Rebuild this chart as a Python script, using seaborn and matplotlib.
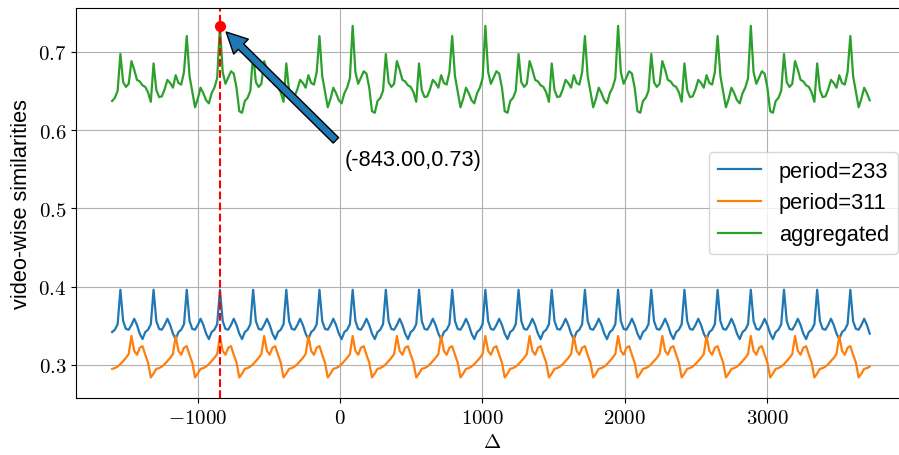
import numpy as np
import pandas as pd
import matplotlib
matplotlib.use("Agg")
import matplotlib.pyplot as plt
import seaborn as sns
from matplotlib.ticker import FuncFormatter

# Frame offsets: 275 evenly spaced shifts (12 per 233-frame period)
delta = np.linspace(-1600.25, 3719.92, 275)

period_233 = [
    0.342, 0.345, 0.352,
    0.396, 0.356, 0.346, 0.345, 0.351, 0.359, 0.351, 0.340, 0.333, 0.342, 0.345, 0.352,
    0.396, 0.356, 0.346, 0.345, 0.351, 0.359, 0.351, 0.340, 0.333, 0.342, 0.345, 0.352,
    0.396, 0.356, 0.346, 0.345, 0.351, 0.359, 0.351, 0.340, 0.333, 0.342, 0.345, 0.352,
    0.396, 0.356, 0.346, 0.345, 0.351, 0.359, 0.351, 0.340, 0.333, 0.342, 0.345, 0.352,
    0.396, 0.356, 0.346, 0.345, 0.351, 0.359, 0.351, 0.340, 0.333, 0.342, 0.345, 0.352,
    0.396, 0.356, 0.346, 0.345, 0.351, 0.359, 0.351, 0.340, 0.333, 0.342, 0.345, 0.352,
    0.396, 0.356, 0.346, 0.345, 0.351, 0.359, 0.351, 0.340, 0.333, 0.342, 0.345, 0.352,
    0.396, 0.356, 0.346, 0.345, 0.351, 0.359, 0.351, 0.340, 0.333, 0.342, 0.345, 0.352,
    0.396, 0.356, 0.346, 0.345, 0.351, 0.359, 0.351, 0.340, 0.333, 0.342, 0.345, 0.352,
    0.396, 0.356, 0.346, 0.345, 0.351, 0.359, 0.351, 0.340, 0.333, 0.342, 0.345, 0.352,
    0.396, 0.356, 0.346, 0.345, 0.351, 0.359, 0.351, 0.340, 0.333, 0.342, 0.345, 0.352,
    0.396, 0.356, 0.346, 0.345, 0.351, 0.359, 0.351, 0.340, 0.333, 0.342, 0.345, 0.352,
    0.396, 0.356, 0.346, 0.345, 0.351, 0.359, 0.351, 0.340, 0.333, 0.342, 0.345, 0.352,
    0.396, 0.356, 0.346, 0.345, 0.351, 0.359, 0.351, 0.340, 0.333, 0.342, 0.345, 0.352,
    0.396, 0.356, 0.346, 0.345, 0.351, 0.359, 0.351, 0.340, 0.333, 0.342, 0.345, 0.352,
    0.396, 0.356, 0.346, 0.345, 0.351, 0.359, 0.351, 0.340, 0.333, 0.342, 0.345, 0.352,
    0.396, 0.356, 0.346, 0.345, 0.351, 0.359, 0.351, 0.340, 0.333, 0.342, 0.345, 0.352,
    0.396, 0.356, 0.346, 0.345, 0.351, 0.359, 0.351, 0.340, 0.333, 0.342, 0.345, 0.352,
    0.396, 0.356, 0.346, 0.345, 0.351, 0.359, 0.351, 0.340, 0.333, 0.342, 0.345, 0.352,
    0.396, 0.356, 0.346, 0.345, 0.351, 0.359, 0.351, 0.340, 0.333, 0.342, 0.345, 0.352,
    0.396, 0.356, 0.346, 0.345, 0.351, 0.359, 0.351, 0.340, 0.333, 0.342, 0.345, 0.352,
    0.396, 0.356, 0.346, 0.345, 0.351, 0.359, 0.351, 0.340, 0.333, 0.342, 0.345, 0.352,
    0.396, 0.356, 0.346, 0.345, 0.351, 0.359, 0.351, 0.340,
]

period_311 = [
    0.295, 0.296, 0.298, 0.301, 0.305, 0.309, 0.314,
    0.337, 0.318, 0.313, 0.322, 0.324, 0.313, 0.303, 0.284, 0.289, 0.295, 0.296, 0.298, 0.301, 0.305, 0.309, 0.314,
    0.337, 0.318, 0.313, 0.322, 0.324, 0.313, 0.303, 0.284, 0.289, 0.295, 0.296, 0.298, 0.301, 0.305, 0.309, 0.314,
    0.337, 0.318, 0.313, 0.322, 0.324, 0.313, 0.303, 0.284, 0.289, 0.295, 0.296, 0.298, 0.301, 0.305, 0.309, 0.314,
    0.337, 0.318, 0.313, 0.322, 0.324, 0.313, 0.303, 0.284, 0.289, 0.295, 0.296, 0.298, 0.301, 0.305, 0.309, 0.314,
    0.337, 0.318, 0.313, 0.322, 0.324, 0.313, 0.303, 0.284, 0.289, 0.295, 0.296, 0.298, 0.301, 0.305, 0.309, 0.314,
    0.337, 0.318, 0.313, 0.322, 0.324, 0.313, 0.303, 0.284, 0.289, 0.295, 0.296, 0.298, 0.301, 0.305, 0.309, 0.314,
    0.337, 0.318, 0.313, 0.322, 0.324, 0.313, 0.303, 0.284, 0.289, 0.295, 0.296, 0.298, 0.301, 0.305, 0.309, 0.314,
    0.337, 0.318, 0.313, 0.322, 0.324, 0.313, 0.303, 0.284, 0.289, 0.295, 0.296, 0.298, 0.301, 0.305, 0.309, 0.314,
    0.337, 0.318, 0.313, 0.322, 0.324, 0.313, 0.303, 0.284, 0.289, 0.295, 0.296, 0.298, 0.301, 0.305, 0.309, 0.314,
    0.337, 0.318, 0.313, 0.322, 0.324, 0.313, 0.303, 0.284, 0.289, 0.295, 0.296, 0.298, 0.301, 0.305, 0.309, 0.314,
    0.337, 0.318, 0.313, 0.322, 0.324, 0.313, 0.303, 0.284, 0.289, 0.295, 0.296, 0.298, 0.301, 0.305, 0.309, 0.314,
    0.337, 0.318, 0.313, 0.322, 0.324, 0.313, 0.303, 0.284, 0.289, 0.295, 0.296, 0.298, 0.301, 0.305, 0.309, 0.314,
    0.337, 0.318, 0.313, 0.322, 0.324, 0.313, 0.303, 0.284, 0.289, 0.295, 0.296, 0.298, 0.301, 0.305, 0.309, 0.314,
    0.337, 0.318, 0.313, 0.322, 0.324, 0.313, 0.303, 0.284, 0.289, 0.295, 0.296, 0.298, 0.301, 0.305, 0.309, 0.314,
    0.337, 0.318, 0.313, 0.322, 0.324, 0.313, 0.303, 0.284, 0.289, 0.295, 0.296, 0.298, 0.301, 0.305, 0.309, 0.314,
    0.337, 0.318, 0.313, 0.322, 0.324, 0.313, 0.303, 0.284, 0.289, 0.295, 0.296, 0.298, 0.301, 0.305, 0.309, 0.314,
    0.337, 0.318, 0.313, 0.322, 0.324, 0.313, 0.303, 0.284, 0.289, 0.295, 0.296, 0.298,
]

aggregated = [
    0.637, 0.641, 0.650,
    0.697, 0.661, 0.655, 0.659, 0.688, 0.677, 0.664, 0.662, 0.657, 0.655, 0.648, 0.636,
    0.685, 0.651, 0.642, 0.643, 0.652, 0.664, 0.660, 0.654, 0.670, 0.660, 0.658, 0.674,
    0.720, 0.669, 0.649, 0.629, 0.640, 0.654, 0.647, 0.638, 0.634, 0.647, 0.654, 0.666,
    0.733, 0.674, 0.659, 0.667, 0.675, 0.672, 0.654, 0.624, 0.622, 0.637, 0.641, 0.650,
    0.697, 0.661, 0.655, 0.659, 0.688, 0.677, 0.664, 0.662, 0.657, 0.655, 0.648, 0.636,
    0.685, 0.651, 0.642, 0.643, 0.652, 0.664, 0.660, 0.654, 0.670, 0.660, 0.658, 0.674,
    0.720, 0.669, 0.649, 0.629, 0.640, 0.654, 0.647, 0.638, 0.634, 0.647, 0.654, 0.666,
    0.733, 0.674, 0.659, 0.667, 0.675, 0.672, 0.654, 0.624, 0.622, 0.637, 0.641, 0.650,
    0.697, 0.661, 0.655, 0.659, 0.688, 0.677, 0.664, 0.662, 0.657, 0.655, 0.648, 0.636,
    0.685, 0.651, 0.642, 0.643, 0.652, 0.664, 0.660, 0.654, 0.670, 0.660, 0.658, 0.674,
    0.720, 0.669, 0.649, 0.629, 0.640, 0.654, 0.647, 0.638, 0.634, 0.647, 0.654, 0.666,
    0.733, 0.674, 0.659, 0.667, 0.675, 0.672, 0.654, 0.624, 0.622, 0.637, 0.641, 0.650,
    0.697, 0.661, 0.655, 0.659, 0.688, 0.677, 0.664, 0.662, 0.657, 0.655, 0.648, 0.636,
    0.685, 0.651, 0.642, 0.643, 0.652, 0.664, 0.660, 0.654, 0.670, 0.660, 0.658, 0.674,
    0.720, 0.669, 0.649, 0.629, 0.640, 0.654, 0.647, 0.638, 0.634, 0.647, 0.654, 0.666,
    0.733, 0.674, 0.659, 0.667, 0.675, 0.672, 0.654, 0.624, 0.622, 0.637, 0.641, 0.650,
    0.697, 0.661, 0.655, 0.659, 0.688, 0.677, 0.664, 0.662, 0.657, 0.655, 0.648, 0.636,
    0.685, 0.651, 0.642, 0.643, 0.652, 0.664, 0.660, 0.654, 0.670, 0.660, 0.658, 0.674,
    0.720, 0.669, 0.649, 0.629, 0.640, 0.654, 0.647, 0.638, 0.634, 0.647, 0.654, 0.666,
    0.733, 0.674, 0.659, 0.667, 0.675, 0.672, 0.654, 0.624, 0.622, 0.637, 0.641, 0.650,
    0.697, 0.661, 0.655, 0.659, 0.688, 0.677, 0.664, 0.662, 0.657, 0.655, 0.648, 0.636,
    0.685, 0.651, 0.642, 0.643, 0.652, 0.664, 0.660, 0.654, 0.670, 0.660, 0.658, 0.674,
    0.720, 0.669, 0.649, 0.629, 0.640, 0.654, 0.647, 0.638,
]

series_names = ["period=233", "period=311", "aggregated"]
series_colors = ["#1f77b4", "#ff7f0e", "#2ca02c"]

# best aggregated shift
peak_delta = -843.0
peak_value = 0.733

xticks = [-1000, 0, 1000, 2000, 3000]
yticks = [0.3, 0.4, 0.5, 0.6, 0.7]

plt.rcParams["mathtext.fontset"] = "cm"
plt.rcParams["font.family"] = ["Liberation Sans", "DejaVu Sans"]

frames = []
for name, values in zip(series_names, [period_233, period_311, aggregated]):
    frames.append(pd.DataFrame({"delta": delta, "similarity": values, "series": name}))
df = pd.concat(frames, ignore_index=True)

fig = plt.figure(figsize=(8.99, 4.56), dpi=100)
ax = fig.add_axes([0.0845, 0.125, 0.926, 0.8553])

sns.lineplot(data=df, x="delta", y="similarity", hue="series",
             hue_order=series_names, palette=series_colors,
             estimator=None, sort=False, linewidth=1.6, legend=False, ax=ax)

ax.axvline(peak_delta, color="red", linestyle="--", linewidth=1.5)
ax.plot([peak_delta], [peak_value], "o", color="red", markersize=7)
ax.annotate(f"({peak_delta:.2f},{peak_value:.2f})",
            xy=(peak_delta, peak_value), xytext=(35, 0.555), fontsize=15.7,
            arrowprops=dict(facecolor="#1f77b4", edgecolor="black", shrink=0.05,
                            width=5.5, headwidth=15, headlength=15))

ax.legend(ax.lines[:3], series_names, loc="center right", fontsize=15.7)

ax.set_xlim(-1854, 3992)
ax.set_ylim(0.2578, 0.7558)
ax.set_xticks(xticks)
ax.set_yticks(yticks)
fmt = FuncFormatter(lambda v, pos: f"${v:g}$")
ax.xaxis.set_major_formatter(fmt)
ax.yaxis.set_major_formatter(fmt)
ax.tick_params(labelsize=15)
ax.grid(True)
ax.set_xlabel(r"$\Delta$", fontsize=15)
ax.set_ylabel("video-wise similarities", fontsize=15.7)

fig.savefig("out.png", dpi=100)
